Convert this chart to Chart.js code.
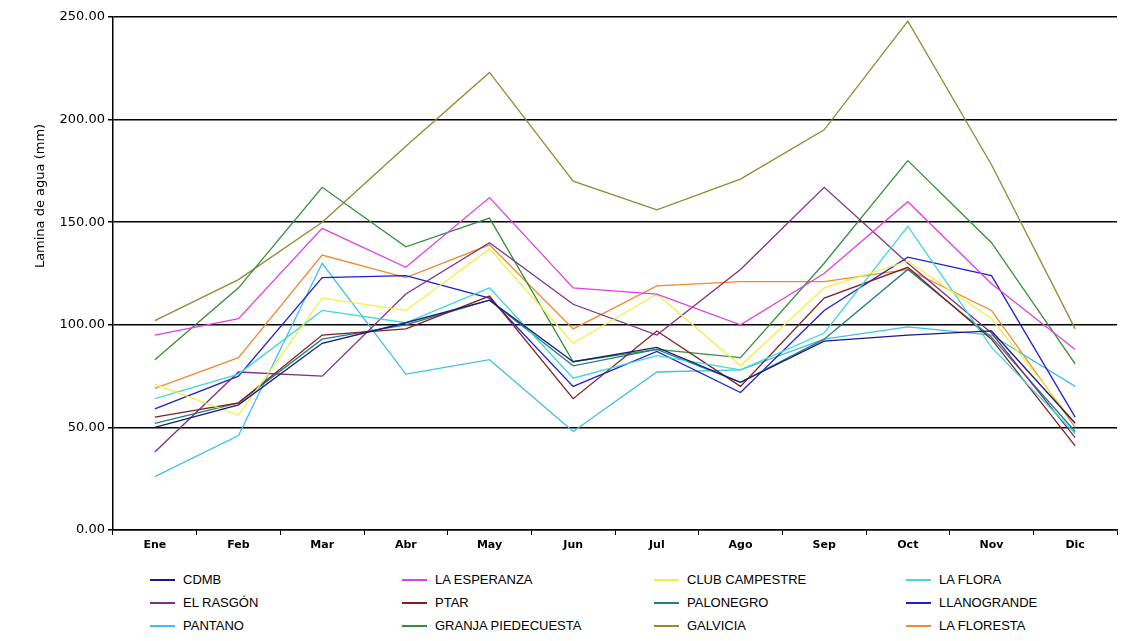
<!DOCTYPE html>
<html>
<head>
<meta charset="utf-8">
<script src="https://cdn.jsdelivr.net/npm/chart.js@4"></script>
<style>
  body { margin: 0; background: #fff; }
  #wrap { position: relative; width: 1136px; height: 641px; }
  #chart { position: absolute; left: 0; top: 0; }
  #legend { position: absolute; left: 150px; top: 572px; font-family: "Liberation Sans", Arial, sans-serif; font-size: 13px; color: #000; }
  .item { position: absolute; white-space: nowrap; }
  .item span.sw { position: absolute; left: 0; top: 7px; width: 25px; height: 2px; }
  .item span.tx { position: absolute; left: 33px; top: 0; }
</style>
</head>
<body>
<div id="wrap">
  <canvas id="chart" width="1136" height="560"></canvas>
  <div id="legend"></div>
</div>
<script>
    // Categories and tick labels
    const months = ['Ene', 'Feb', 'Mar', 'Abr', 'May', 'Jun', 'Jul', 'Ago', 'Sep', 'Oct', 'Nov', 'Dic'];
    const yTicks = [0, 50, 100, 150, 200, 250];

    // Series values (mm)
    const cdmb        = [50, 61, 91, 101, 112, 82, 89, 72, 92, 95, 97, 52];
    const laEsperanza = [95, 103, 147, 128, 162, 118, 115, 100, 125, 160, 120, 88];
    const clubCamp    = [71, 56, 113, 107, 137, 91, 115, 80, 118, 131, 103, 52];
    const laFlora     = [64, 76, 107, 101, 118, 74, 85, 78, 96, 148, 89, 47];
    const elRasgon    = [38, 77, 75, 115, 140, 110, 95, 127, 167, 130, 96, 45];
    const ptar        = [55, 62, 95, 98, 114, 64, 97, 70, 113, 128, 93, 41];
    const palonegro   = [52, 62, 93, 100, 112, 80, 88, 72, 93, 127, 94, 48];
    const llanogrande = [59, 75, 123, 124, 113, 70, 87, 67, 107, 133, 124, 55];
    const pantano     = [26, 46, 130, 76, 83, 48, 77, 78, 93, 99, 95, 70];
    const granja      = [83, 118, 167, 138, 152, 82, 88, 84, 130, 180, 140, 81];
    const galvicia    = [102, 122, 150, 187, 223, 170, 156, 171, 195, 248, 178, 98];
    const laFloresta  = [69, 84, 134, 123, 139, 98, 119, 121, 121, 127, 107, 50];

    const names  = ['CDMB', 'LA ESPERANZA', 'CLUB CAMPESTRE', 'LA FLORA',
                    'EL RASGÓN', 'PTAR', 'PALONEGRO', 'LLANOGRANDE',
                    'PANTANO', 'GRANJA PIEDECUESTA', 'GALVICIA', 'LA FLORESTA'];
    const values = [cdmb, laEsperanza, clubCamp, laFlora, elRasgon, ptar, palonegro,
                    llanogrande, pantano, granja, galvicia, laFloresta];
    const colors = ['#1a1a80', '#e040e0', '#f2f040', '#40d8d8', '#803080', '#802020',
                    '#208080', '#2020d0', '#40c0e8', '#30903a', '#8c8c30', '#f08a30'];

    const datasets = names.map((n, i) => ({
        label: n,
        data: values[i],
        borderColor: colors[i],
        backgroundColor: colors[i],
        borderWidth: 1.3,
        pointRadius: 0,
        tension: 0
    }));

    // y axis title placed like the original (not centred on the axis)
    const yTitle = {
        id: 'yTitle',
        afterDraw(chart) {
            const c = chart.ctx;
            c.save();
            c.translate(41, 196);
            c.rotate(-Math.PI / 2);
            c.font = '13px "DejaVu Sans", sans-serif';
            c.fillStyle = '#000';
            c.textAlign = 'center';
            c.textBaseline = 'middle';
            c.fillText('Lamina de agua (mm)', 0, 0);
            c.restore();
        }
    };

    new Chart(document.getElementById('chart'), {
        type: 'line',
        data: { labels: months, datasets: datasets },
        plugins: [yTitle],
        options: {
            responsive: false,
            animation: false,
            layout: { padding: { top: 17, right: 19, left: 0, bottom: 0 } },
            plugins: { legend: { display: false }, tooltip: { enabled: false } },
            scales: {
                x: {
                    offset: true,
                    grid: { offset: true, drawOnChartArea: false, drawTicks: true, tickLength: 5, color: '#000' },
                    border: { color: '#000', width: 1.5 },
                    ticks: { color: '#000', font: { family: 'DejaVu Sans', size: 11, weight: 'bold' }, padding: 4, maxRotation: 0 },
                    afterFit(s) { s.height = 30; }
                },
                y: {
                    min: 0,
                    max: 250,
                    afterBuildTicks(s) { s.ticks = yTicks.map(v => ({ value: v })); },
                    grid: { color: '#000', lineWidth: 1.5, tickLength: 5 },
                    border: { color: '#000', width: 1.5 },
                    ticks: {
                        color: '#000',
                        font: { family: 'DejaVu Sans', size: 13 },
                        padding: 3,
                        callback: v => v.toFixed(2)
                    },
                    afterFit(s) { s.width = 113; }
                }
            }
        }
    });

    // Legend in 4 columns x 3 rows
    const legend = document.getElementById('legend');
    names.forEach((n, i) => {
        const el = document.createElement('div');
        el.className = 'item';
        el.style.left = (i % 4) * 252 + 'px';
        el.style.top = Math.floor(i / 4) * 23 + 'px';
        el.innerHTML = '<span class="sw" style="background:' + colors[i] + '"></span><span class="tx">' + n + '</span>';
        legend.appendChild(el);
    });
</script>
</body>
</html>
